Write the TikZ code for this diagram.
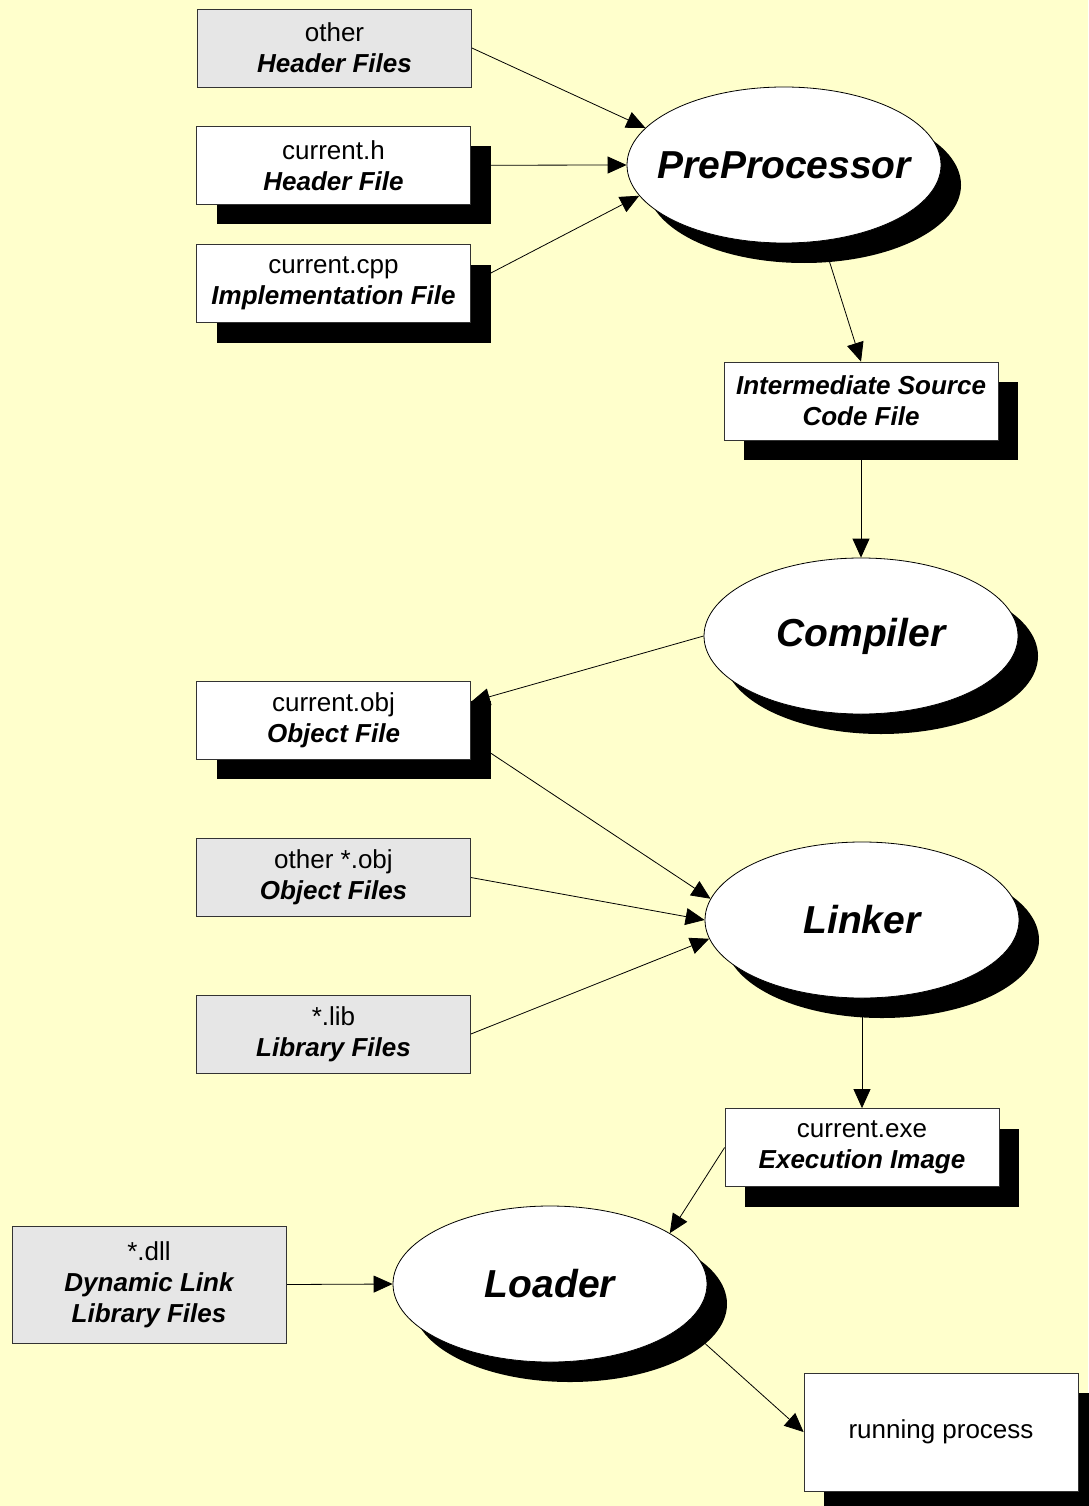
\documentclass[tikz,border=0pt]{standalone}
\usepackage{fontspec}
\setmainfont{Liberation Sans}
\usetikzlibrary{shapes.geometric,arrows.meta,shadows}
\definecolor{bgy}{HTML}{FFFFCC}
\definecolor{boxgray}{HTML}{E6E6E6}
\pgfdeclarelayer{bgl}
\pgfdeclarelayer{edges}
\pgfsetlayers{bgl,edges,main}
\newcommand\bitx[1]{{\bfseries\itshape #1}}
\begin{document}
\begin{tikzpicture}[x=1pt,y=-1pt,
  filebox/.style={draw=black!80,line width=0.8pt,rectangle,minimum width=274pt,minimum height=78pt,
    inner sep=0pt,align=center,font=\fontsize{26}{31}\selectfont},
  graybox/.style={filebox,fill=boxgray},
  whitebox/.style={filebox,fill=white,
    drop shadow={shadow xshift=20pt,shadow yshift=-20pt,opacity=1,fill=black,draw=none}},
  proc/.style={ellipse,draw=black,line width=0.8pt,fill=white,minimum width=314pt,minimum height=156pt,
    inner xsep=-30pt,inner ysep=0pt,font=\fontsize{39}{45}\selectfont\bfseries\itshape,
    drop shadow={shadow xshift=20pt,shadow yshift=-20pt,opacity=1,fill=black,draw=none}},
  arr/.style={-{Triangle[length=19pt,width=17pt]},line width=0.8pt,draw=black}]
\useasboundingbox (0,0) rectangle (1088,1506);
\begin{pgfonlayer}{bgl}
  \fill[bgy] (0,0) rectangle (1088,1506);
\end{pgfonlayer}

\node[graybox]  (hdrOther) at (334.5,48)   {other\\\bitx{Header Files}};
\node[whitebox] (hdrCur)   at (333.5,165.5) {current.h\\\bitx{Header File}};
\node[whitebox] (cpp)      at (333.5,283.5) {current.cpp\\\bitx{Implementation File}};
\node[proc]     (pre)      at (784,165)    {PreProcessor};
\node[whitebox] (inter)    at (861,401)    {\bitx{Intermediate Source}\\\bitx{Code File}};
\node[proc]     (comp)     at (861,636)    {Compiler};
\node[whitebox] (obj)      at (333.5,720)  {current.obj\\\bitx{Object File}};
\node[graybox]  (oobj)     at (333.5,877.5) {other *.obj\\\bitx{Object Files}};
\node[graybox]  (lib)      at (333.5,1034) {*.lib\\\bitx{Library Files}};
\node[proc]     (link)     at (862,920)    {Linker};
\node[whitebox] (exe)      at (862,1147.5) {current.exe\\\bitx{Execution Image}};
\node[graybox,minimum height=117pt] (dll) at (149,1284.5) {*.dll\\\bitx{Dynamic Link}\\\bitx{Library Files}};
\node[proc]     (load)     at (550,1284)   {Loader};
\node[whitebox,minimum height=118pt] (run) at (941,1432) {running process};
\coordinate (ldout) at (690,1330);

\begin{pgfonlayer}{edges}
  \draw[arr] (hdrOther.east) -- (pre.165);
  \draw[arr] (hdrCur.center) -- (pre.west);
  \draw[arr] ([xshift=20pt,yshift=10.5pt]cpp.east) -- (pre.192.5);
  \draw[arr] ([xshift=15pt]pre.center) -- (inter.north);
  \draw[arr] (inter.center) -- (comp.north);
  \draw[arr] (comp.west) -- ([yshift=18pt]obj.east);
  \draw[arr] ([yshift=-20pt]obj.east) -- (link.172);
  \draw[arr] (oobj.east) -- (link.west);
  \draw[arr] (lib.east) -- (link.187.5);
  \draw[arr] (link.center) -- (exe.north);
  \draw[arr] (exe.west) -- (load.23.4);
  \draw[arr] (dll.east) -- (load.west);
  \draw[arr] (ldout) -- (run.west);
\end{pgfonlayer}
\end{tikzpicture}
\end{document}
